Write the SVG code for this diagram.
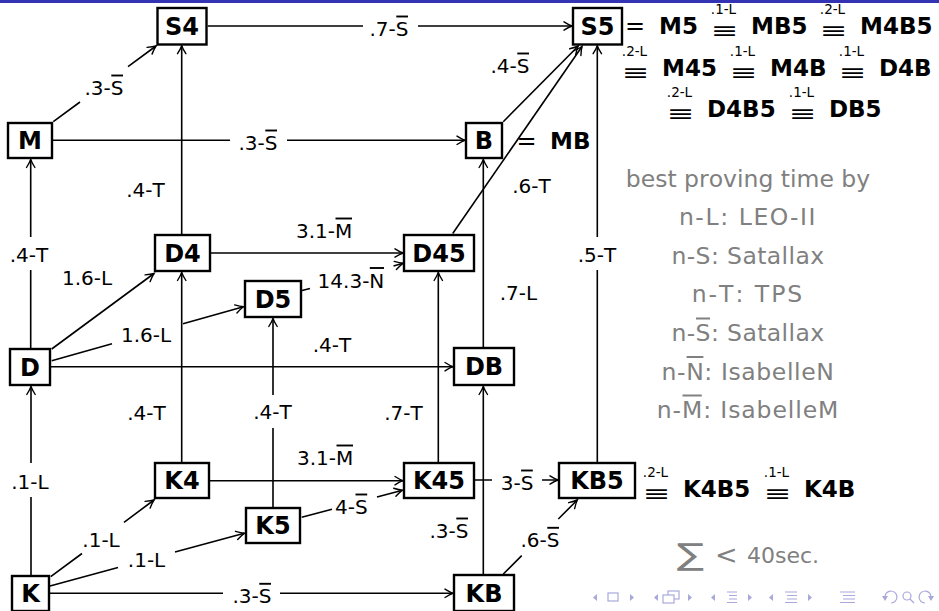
<svg xmlns="http://www.w3.org/2000/svg" width="939" height="611" viewBox="0 0 939 611">
<style>
.box{fill:#fff;stroke:#000;stroke-width:2.4}
.nt{font-family:"DejaVu Sans",sans-serif;font-weight:bold;font-size:24px;text-anchor:middle;fill:#000}
.e{fill:none;stroke:#000;stroke-width:1.6;marker-end:url(#arr)}
.lb{font-family:"DejaVu Sans",sans-serif;font-size:20px;fill:#000;font-kerning:none}
.m{text-anchor:middle}
.ov{stroke:#000;stroke-width:1.9}
.rt{font-family:"DejaVu Sans",sans-serif;font-weight:bold;font-size:23px;fill:#000;font-kerning:none}
.eqs{font-family:"DejaVu Sans",sans-serif;font-size:24px;fill:#000}
.eq{font-family:"DejaVu Sans",sans-serif;font-size:22px;text-anchor:middle;fill:#000}
.sp{font-family:"DejaVu Sans",sans-serif;font-size:13.5px;text-anchor:middle;fill:#000}
.lg{font-family:"DejaVu Sans",sans-serif;font-size:23.5px;fill:#808080;font-kerning:none}
.ovg{stroke:#808080;stroke-width:2}
.nav{fill:none;stroke:#a8a8dc;stroke-width:1.2}
.navf{fill:#a8a8dc}
</style>
<defs>
<marker id="arr" markerUnits="userSpaceOnUse" markerWidth="14" markerHeight="14" viewBox="-11 -7 14 14" refX="0" refY="0" orient="auto">
<path d="M-8,-4.2 C-5,-2.3 -2,-0.7 0,0 C-2,0.7 -5,2.3 -8,4.2" fill="none" stroke="#000" stroke-width="1.4" stroke-linecap="round"/>
</marker>
</defs>
<rect x="0" y="0" width="939" height="3" fill="#3333b3"/>

<g id="connectors">
<path class="e" d="M53.3,121.7 L80,102 M128,66.6 L156,46"/>
<path class="e" d="M207.7,26 L363,26 M418,26 L572,26"/>
<path class="e" d="M53,140.3 L230,140.3 M287,140.3 L465,140.3"/>
<path class="e" d="M181.7,234 L181.7,45.7"/>
<path class="e" d="M181.7,462 L181.7,272.5"/>
<path class="e" d="M211,253 L403,253"/>
<path class="e" d="M302,290.5 L310,288.4 M393.5,265.9 L403,263.3"/>
<path class="e" d="M51.7,349 L154,273.5"/>
<path class="e" d="M51.7,360.7 L112,343.8 M183,323.8 L243.5,306.8"/>
<path class="e" d="M51,366.7 L453,366.7"/>
<path class="e" d="M30.7,348 L30.7,270 M30.7,237 L30.7,159.5"/>
<path class="e" d="M31,575 L31,497 M31,463 L31,386.5"/>
<path class="e" d="M50.7,576.7 L82,553.5 M124,522.3 L154,500"/>
<path class="e" d="M50,586 L118,567.6 M175,552.1 L244.3,533.3"/>
<path class="e" d="M50,593.3 L223,593.3 M280,593.3 L453,593.3"/>
<path class="e" d="M210,480.7 L403,480.7"/>
<path class="e" d="M273,507 L273,428 M273,395 L273,318.5"/>
<path class="e" d="M301.7,517.3 L332,509.2 M377,497.1 L402.5,490.2"/>
<path class="e" d="M438.3,462 L438.3,272.5"/>
<path class="e" d="M475,480 L492,480 M542,480 L558,480"/>
<path class="e" d="M483.3,574 L483.3,386.5"/>
<path class="e" d="M503.3,574 L521.7,555.6 M558.3,519 L577.3,500"/>
<path class="e" d="M483.3,347 L483.3,159.5"/>
<path class="e" d="M503.3,121.7 L578.3,46"/>
<path class="e" d="M452.7,233.5 L582,46.5"/>
<path class="e" d="M597.3,462 L597.3,270 M597.3,237 L597.3,45.7"/>
</g>

<g id="edge-labels">
<text class="lb" x="84.5" y="95">.3-S</text><line class="ov" x1="111.3" y1="75.5" x2="123" y2="75.5"/>
<text class="lb" x="369.5" y="36">.7-S</text><line class="ov" x1="396.3" y1="16.5" x2="408" y2="16.5"/>
<text class="lb" x="238.5" y="150">.3-S</text><line class="ov" x1="265.3" y1="130.5" x2="277" y2="130.5"/>
<text class="lb" x="232.5" y="603.3">.3-S</text><line class="ov" x1="259.3" y1="583.8" x2="271" y2="583.8"/>
<text class="lb" x="317.6" y="287.5">14.3-N</text><line class="ov" x1="369.8" y1="268" x2="384" y2="268"/>
<text class="lb" x="121" y="341.7">1.6-L</text>
<text class="lb" x="82.3" y="547">.1-L</text>
<text class="lb" x="127.8" y="567">.1-L</text>
<text class="lb" x="335" y="514">4-S</text><line class="ov" x1="355.5" y1="494.5" x2="367.2" y2="494.5"/>
<text class="lb" x="520.5" y="547.3">.6-S</text><line class="ov" x1="547.3" y1="527.8" x2="559" y2="527.8"/>
<text class="lb" x="500.7" y="490">3-S</text><line class="ov" x1="521.1" y1="470.5" x2="532.8" y2="470.5"/>
<text class="lb m" x="29" y="261.5">.4-T</text>
<text class="lb m" x="30" y="489">.1-L</text>
<text class="lb m" x="597" y="261.5">.5-T</text>
<text class="lb m" x="272.5" y="419">.4-T</text>
<text class="lb m" x="145.5" y="197">.4-T</text>
<text class="lb m" x="87" y="285">1.6-L</text>
<text class="lb" x="296" y="238">3.1-M</text><line class="ov" x1="335.5" y1="218.5" x2="352" y2="218.5"/>
<text class="lb m" x="332" y="352">.4-T</text>
<text class="lb m" x="518.5" y="300">.7-L</text>
<text class="lb m" x="531.5" y="193">.6-T</text>
<text class="lb" x="490.5" y="73">.4-S</text><line class="ov" x1="517.3" y1="53.5" x2="529" y2="53.5"/>
<text class="lb m" x="146.5" y="420">.4-T</text>
<text class="lb m" x="403.5" y="420">.7-T</text>
<text class="lb" x="297" y="465">3.1-M</text><line class="ov" x1="336.5" y1="445.5" x2="353" y2="445.5"/>
<text class="lb" x="429.5" y="538">.3-S</text><line class="ov" x1="456.3" y1="518.5" x2="468" y2="518.5"/>
</g>

<g id="node-S4"><rect class="box" x="157.5" y="8" width="49" height="36.5"/><text class="nt" x="182" y="35">S4</text></g>
<g id="node-S5"><rect class="box" x="573" y="8" width="49" height="36.5"/><text class="nt" x="597.5" y="35">S5</text></g>
<g id="node-M"><rect class="box" x="8" y="123" width="44" height="35"/><text class="nt" x="30" y="149.2">M</text></g>
<g id="node-B"><rect class="box" x="466" y="123" width="36" height="35"/><text class="nt" x="484" y="149.2">B</text></g>
<g id="node-D4"><rect class="box" x="155" y="235" width="55" height="36"/><text class="nt" x="182.5" y="261.7">D4</text></g>
<g id="node-D45"><rect class="box" x="404" y="235" width="70" height="36"/><text class="nt" x="439" y="261.7">D45</text></g>
<g id="node-D5"><rect class="box" x="245" y="281" width="56" height="36"/><text class="nt" x="273" y="307.7">D5</text></g>
<g id="node-D"><rect class="box" x="10" y="349" width="40" height="36"/><text class="nt" x="30" y="375.7">D</text></g>
<g id="node-DB"><rect class="box" x="454" y="348" width="60" height="37"/><text class="nt" x="484" y="375.2">DB</text></g>
<g id="node-K4"><rect class="box" x="155" y="463" width="54" height="35"/><text class="nt" x="182" y="489.2">K4</text></g>
<g id="node-K5"><rect class="box" x="246" y="508" width="54" height="35"/><text class="nt" x="273" y="534.2">K5</text></g>
<g id="node-K45"><rect class="box" x="404" y="463" width="70" height="35"/><text class="nt" x="439" y="489.2">K45</text></g>
<g id="node-KB5"><rect class="box" x="559" y="463" width="76" height="35"/><text class="nt" x="597" y="489.2">KB5</text></g>
<g id="node-K"><rect class="box" x="12" y="576" width="37" height="35"/><text class="nt" x="30.5" y="602.2">K</text></g>
<g id="node-KB"><rect class="box" x="454" y="575" width="60" height="36"/><text class="nt" x="484" y="601.7">KB</text></g>

<g id="equivalences">
<text class="eqs" x="625" y="34">=</text>
<text class="rt" x="659" y="34">M5</text>
<text class="eq" transform="translate(724.5,38) scale(1.5,1)">≡</text><text class="sp" x="723.5" y="14">.1-L</text>
<text class="rt" x="751" y="34">MB5</text>
<text class="eq" transform="translate(833.5,38) scale(1.5,1)">≡</text><text class="sp" x="832.5" y="14">.2-L</text>
<text class="rt" x="860" y="34">M4B5</text>

<text class="eq" transform="translate(635.5,80) scale(1.5,1)">≡</text><text class="sp" x="634.5" y="56">.2-L</text>
<text class="rt" x="662" y="76">M45</text>
<text class="eq" transform="translate(743.5,80) scale(1.5,1)">≡</text><text class="sp" x="742.5" y="56">.1-L</text>
<text class="rt" x="770" y="76">M4B</text>
<text class="eq" transform="translate(852.5,80) scale(1.5,1)">≡</text><text class="sp" x="851.5" y="56">.1-L</text>
<text class="rt" x="879" y="76">D4B</text>

<text class="eq" transform="translate(680.5,121) scale(1.5,1)">≡</text><text class="sp" x="679.5" y="97">.2-L</text>
<text class="rt" x="707" y="117">D4B5</text>
<text class="eq" transform="translate(802.5,121) scale(1.5,1)">≡</text><text class="sp" x="801.5" y="97">.1-L</text>
<text class="rt" x="829" y="117">DB5</text>

<text class="eqs" x="516.5" y="149">=</text>
<text class="rt" x="550" y="149">MB</text>

<text class="eq" transform="translate(656.5,501) scale(1.5,1)">≡</text><text class="sp" x="655.5" y="477">.2-L</text>
<text class="rt" x="683" y="497">K4B5</text>
<text class="eq" transform="translate(777.5,501) scale(1.5,1)">≡</text><text class="sp" x="776.5" y="477">.1-L</text>
<text class="rt" x="804" y="497">K4B</text>
</g>

<g id="legend">
<text class="lg m" x="748" y="186.5">best proving time by</text>
<text class="lg m" x="748" y="225" style="letter-spacing:1.6px">n-L: LEO-II</text>
<text class="lg m" x="748" y="263.7" style="letter-spacing:0.4px">n-S: Satallax</text>
<text class="lg m" x="748" y="302" style="letter-spacing:2px">n-T: TPS</text>
<text class="lg" x="671.4" y="341" style="letter-spacing:0.4px">n-S: Satallax</text><line class="ovg" x1="696" y1="318.5" x2="710" y2="318.5"/>
<text class="lg" x="661.6" y="379.5" style="letter-spacing:0.6px">n-N: IsabelleN</text><line class="ovg" x1="686.6" y1="357" x2="703.4" y2="357"/>
<text class="lg" x="656.8" y="418" style="letter-spacing:0.9px">n-M: IsabelleM</text><line class="ovg" x1="682.5" y1="395.5" x2="701.8" y2="395.5"/>
<text transform="translate(677,565) scale(1.35,1)" style="font-family:'DejaVu Sans',sans-serif;font-size:30px;fill:#808080">∑</text>
<text x="715" y="564" style="font-family:'DejaVu Sans',sans-serif;font-size:27px;fill:#808080">&lt;</text>
<text x="747" y="563" style="font-family:'DejaVu Sans',sans-serif;font-size:22px;fill:#808080">40sec.</text>
</g>

<g id="nav">
<polygon class="navf" points="597,594 593,597.5 597,601"/>
<rect class="nav" x="608" y="593" width="10" height="8"/>
<polygon class="navf" points="630,594 634,597.5 630,601"/>
<polygon class="navf" points="658,594 654,597.5 658,601"/>
<rect class="nav" x="668" y="591" width="11" height="8" fill="#fff"/>
<rect class="nav" x="663" y="595" width="11" height="8" style="fill:#fff"/>
<polygon class="navf" points="688,594 692,597.5 688,601"/>
<polygon class="navf" points="715,594 711,597.5 715,601"/>
<path class="nav" d="M727,592 h10 M729,595.5 h8 M729,599 h8 M727,602.5 h10"/>
<polygon class="navf" points="748,594 752,597.5 748,601"/>
<polygon class="navf" points="773,594 769,597.5 773,601"/>
<path class="nav" d="M785,592 h12 M787,595.5 h10 M787,599 h10 M785,602.5 h12"/>
<polygon class="navf" points="808,594 812,597.5 808,601"/>
<path class="nav" d="M840,592 h15 M843,595.5 h12 M843,599 h12 M840,602.5 h15"/>
<path class="nav" d="M885,598 A6,6 0 1 1 891,603"/><polygon class="navf" points="882,596 888,596 885,601"/>
<circle class="nav" cx="907" cy="596" r="4"/><path class="nav" d="M910,599 L914,603"/>
<path class="nav" d="M931,598 A6,6 0 1 0 925,603"/><polygon class="navf" points="928,596 934,596 931,601"/>
</g>
</svg>
